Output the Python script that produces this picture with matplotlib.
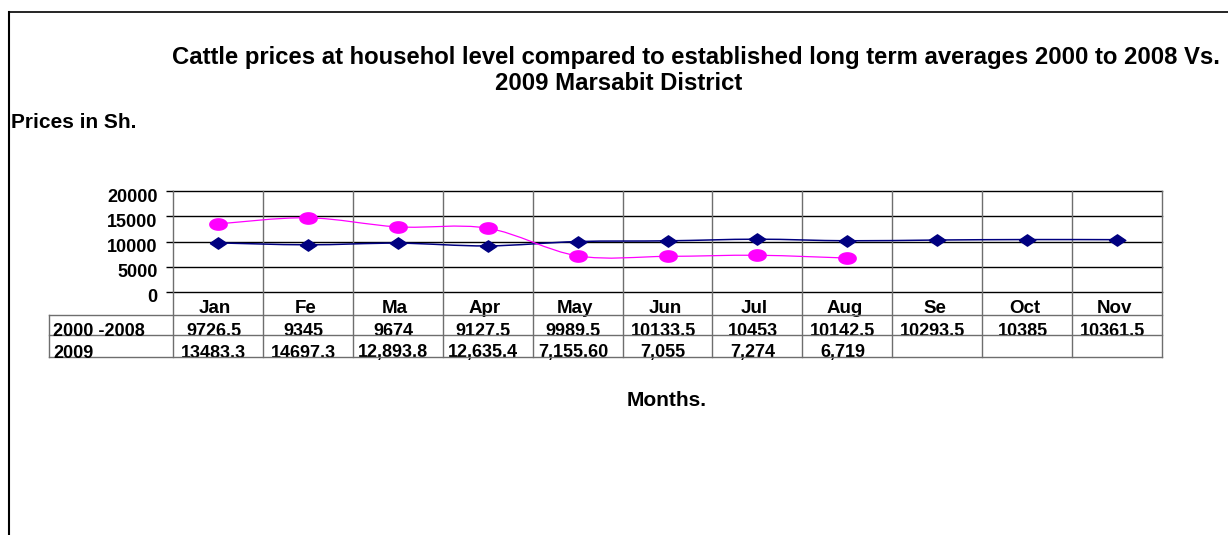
import numpy as np
import matplotlib
matplotlib.use("Agg")
import matplotlib.pyplot as plt
from matplotlib.path import Path
from matplotlib.patches import PathPatch
from matplotlib.lines import Line2D
from matplotlib import transforms as mtransforms

plt.rcParams['font.family'] = ['Liberation Sans', 'DejaVu Sans']
plt.rcParams['font.weight'] = 'bold'

# data
months = ['Jan', 'Fe', 'Ma', 'Apr', 'May', 'Jun', 'Jul', 'Aug', 'Se', 'Oct', 'Nov']
avg_2000_2008 = [9726.5, 9345, 9674, 9127.5, 9989.5, 10133.5, 10453, 10142.5, 10293.5, 10385, 10361.5]
prices_2009 = [13483.3, 14697.3, 12893.8, 12635.4, 7155.60, 7055, 7274, 6719]
avg_labels = ['9726.5', '9345', '9674', '9127.5', '9989.5', '10133.5', '10453', '10142.5',
              '10293.5', '10385', '10361.5']
labels_2009 = ['13483.3', '14697.3', '12,893.8', '12,635.4', '7,155.60', '7,055', '7,274', '6,719']
row_names = ['2000 -2008', '2009']
yticks = [0, 5000, 10000, 15000, 20000]

W, H = 1228, 535


def fx(px):
    return px / W


def fy(py):
    return 1 - py / H


def smooth_path(xs, ys):
    # Catmull-Rom style bezier through the points (like Excel smoothed lines)
    pts = np.column_stack([xs, ys]).astype(float)
    ext = np.vstack([pts[0], pts, pts[-1]])
    verts = [pts[0]]
    codes = [Path.MOVETO]
    for i in range(len(pts) - 1):
        p0, p1, p2, p3 = ext[i], ext[i + 1], ext[i + 2], ext[i + 3]
        verts += [p1 + (p2 - p0) / 6, p2 - (p3 - p1) / 6, p2]
        codes += [Path.CURVE4] * 3
    return Path(verts, codes)


fig = plt.figure(figsize=(W / 100, H / 100), dpi=100)

# outer chart border (cut off on the right and bottom)
fig.add_artist(Line2D([fx(9), fx(9)], [fy(12), 0], color='black', lw=1.5))
fig.add_artist(Line2D([fx(9), 1], [fy(12), fy(12)], color='black', lw=1.2))

left, right, top, bottom = 173, 1162, 191, 292
ax = fig.add_axes([fx(left), fy(bottom), (right - left) / W, (bottom - top) / H])
x = np.arange(len(months))
ax.set_xlim(-0.5, len(months) - 0.5)
ax.set_ylim(0, 20000)

for s in ax.spines.values():
    s.set_visible(False)
ax.set_xticks([])
ax.set_yticks(yticks)
ax.set_yticklabels([str(v) for v in yticks], fontsize=13, fontweight='bold')
ax.tick_params(axis='y', length=5, width=1, pad=6, color='black')
off = mtransforms.ScaledTranslation(0, -4 / 100, fig.dpi_scale_trans)
for lab in ax.get_yticklabels():
    lab.set_transform(lab.get_transform() + off)

# horizontal gridlines
for v in yticks:
    ax.axhline(v, color='black', lw=1, zorder=1, clip_on=False)

# series
theta = np.linspace(0, 2 * np.pi, 64)
ellipse = Path(np.column_stack([np.cos(theta), 0.65 * np.sin(theta)]))
diamond = Path([(-1, 0), (0, 0.68), (1, 0), (0, -0.68), (-1, 0)])

ax.add_patch(PathPatch(smooth_path(x, avg_2000_2008), fill=False,
                       edgecolor='#000080', lw=1.1, zorder=3))
ax.plot(x, avg_2000_2008, ls='none', marker=diamond, ms=12, color='#000080', zorder=4)

x9 = x[:len(prices_2009)]
ax.add_patch(PathPatch(smooth_path(x9, prices_2009), fill=False,
                       edgecolor='#FF00FF', lw=0.9, zorder=3))
ax.plot(x9, prices_2009, ls='none', marker=ellipse, ms=12.5, color='#FF00FF', zorder=4)

# data table below the plot
tb = mtransforms.blended_transform_factory(ax.transData, fig.transFigure)
grid_gray = '#6e6e6e'
row_lines = [315, 335, 357]
table_bottom = row_lines[-1]

for i in range(len(months) + 1):
    ax.add_line(Line2D([i - 0.5, i - 0.5], [fy(top), fy(table_bottom)], transform=tb,
                       color=grid_gray, lw=1, clip_on=False, zorder=2))
for py in row_lines:
    fig.add_artist(Line2D([fx(49), fx(right)], [fy(py), fy(py)], color=grid_gray, lw=1))
fig.add_artist(Line2D([fx(49), fx(49)], [fy(row_lines[0]), fy(table_bottom)],
                      color=grid_gray, lw=1))

for i, m in enumerate(months):
    ax.text(i - 0.03, fy(313), m, transform=tb, ha='center', va='baseline',
            fontsize=13.5, fontweight='bold')
for i, t in enumerate(avg_labels):
    ax.text(i - 0.05, fy(336), t, transform=tb, ha='center', va='baseline',
            fontsize=13, fontweight='bold')
for i, t in enumerate(labels_2009):
    ax.text(i - 0.05, fy(357.5), t, transform=tb, ha='center', va='baseline',
            fontsize=13, fontweight='bold')
for py, name in zip([336, 357.5], row_names):
    fig.text(fx(53), fy(py), name, ha='left', va='baseline', fontsize=13, fontweight='bold')

# titles
fig.text(fx(696), fy(64), 'Cattle prices at househol level compared to established long term averages 2000 to 2008 Vs.',
         ha='center', va='baseline', fontsize=17.2, fontweight='bold')
fig.text(fx(619), fy(90), '2009 Marsabit District',
         ha='center', va='baseline', fontsize=17.2, fontweight='bold')
fig.text(fx(11), fy(128), 'Prices in Sh.', ha='left', va='baseline', fontsize=15, fontweight='bold')
fig.text(fx(667), fy(406), 'Months.', ha='center', va='baseline', fontsize=15, fontweight='bold')

fig.savefig('out.png', dpi=100)
